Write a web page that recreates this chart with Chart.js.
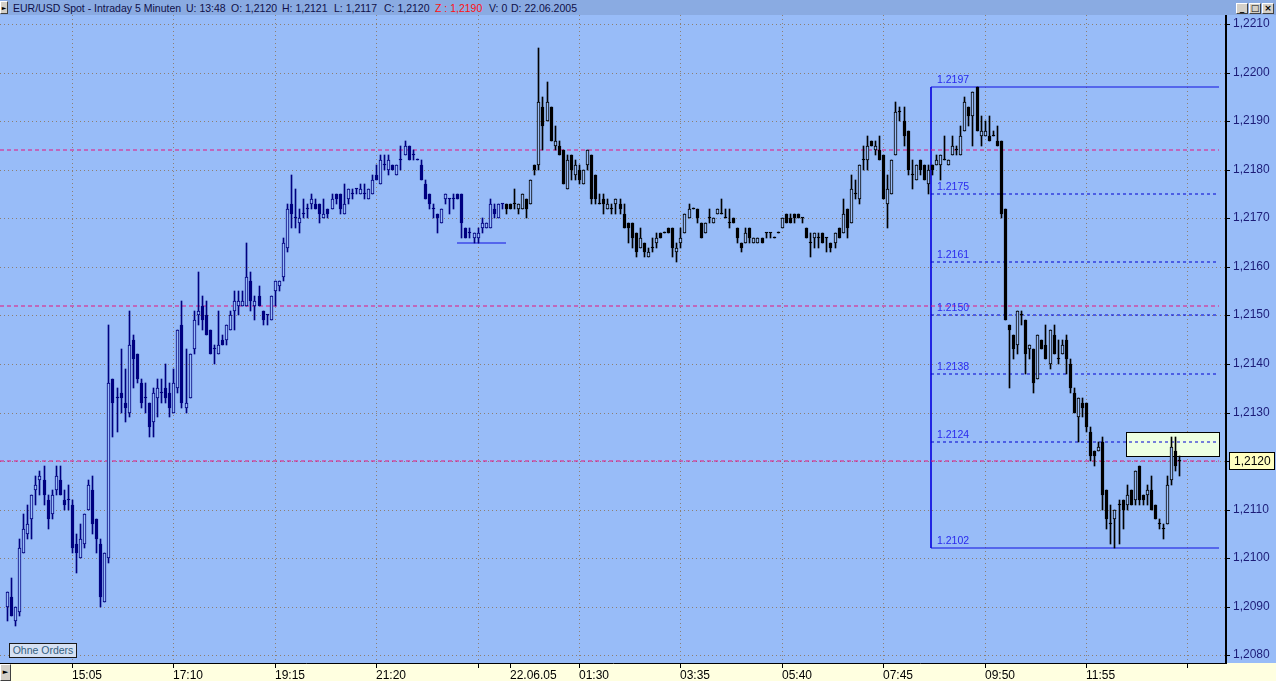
<!DOCTYPE html>
<html>
<head>
<meta charset="utf-8">
<title>EUR/USD Spot - Intraday 5 Minuten</title>
<script src="https://cdn.jsdelivr.net/npm/chart.js@4.4.1/dist/chart.umd.min.js"></script>
<style>
html, body { margin: 0; padding: 0; overflow: hidden; background: #98bcf8; }
#wrap { position: relative; width: 1276px; height: 681px; }
#chart { position: absolute; left: 0; top: 0; }
#head { position: absolute; left: 0; top: 0; width: 1276px; height: 15px; background: #8aabe2;
        font: 10.5px 'Liberation Sans', Arial, sans-serif; color: #101048; }
#head span { position: absolute; top: 2px; white-space: nowrap; }
#head .red { color: #ff1010; }
.btn { position: absolute; background: #d4d0c8; border: 1px solid; border-color: #fff #404040 #404040 #fff;
       box-sizing: border-box; font: bold 9px 'DejaVu Sans', sans-serif; color: #000; text-align: center; line-height: 9px; }
#orders { position: absolute; left: 9px; top: 643px; width: 68px; height: 15px; box-sizing: border-box;
          border: 1px solid #1a1a1a; background: #d5e1f3; color: #33607f;
          font: 10.5px 'Liberation Sans', Arial, sans-serif; text-align: center; line-height: 13px; }
</style>
</head>
<body>
<div id="wrap">
  <canvas id="chart" width="1276" height="681"></canvas>
  <div id="head">
    <div class="btn" style="left:0;top:1px;width:8px;height:13px;font-size:6px;line-height:11px;">&#9658;</div>
    <span style="left:13px">EUR/USD Spot - Intraday 5 Minuten</span>
    <span id="hU" style="left:186px"></span>
    <span id="hO" style="left:231px"></span>
    <span id="hH" style="left:282px"></span>
    <span id="hL" style="left:334px"></span>
    <span id="hC" style="left:384px"></span>
    <span id="hZ" class="red" style="left:435px"></span>
    <span id="hV" style="left:489px"></span>
    <span id="hD" style="left:511px"></span>
    <div class="btn" style="left:1236px;top:3px;width:12px;height:11px;">_</div>
    <div class="btn" style="left:1249px;top:3px;width:12px;height:11px;">&#9633;</div>
    <div class="btn" style="left:1262px;top:3px;width:12px;height:11px;">&#215;</div>
  </div>
  <div class="btn" style="left:0;top:664px;width:11px;height:17px;font-size:7px;line-height:15px;">&#9658;</div>
  <div id="orders">Ohne Orders</div>
</div>
<script>
// Kerzen (5 Minuten), 21.06.2005 13:45 bis 22.06.2005 13:50
const opens = [
  1.2090,1.2092,1.2087,1.2089,1.2101,1.2105,1.2108,1.2114,1.2116,1.2116,
  1.2112,1.2109,1.2114,1.2116,1.2112,1.2112,1.2111,1.2103,1.2100,1.2103,
  1.2110,1.2114,1.2108,1.2103,1.2091,1.2100,1.2137,1.2133,1.2134,1.2132,
  1.2130,1.2145,1.2142,1.2136,1.2133,1.2132,1.2128,1.2133,1.2134,1.2135,
  1.2134,1.2130,1.2135,1.2148,1.2131,1.2133,1.2143,1.2150,1.2152,1.2150,
  1.2147,1.2143,1.2142,1.2145,1.2145,1.2147,1.2151,1.2152,1.2152,1.2152,
  1.2157,1.2152,1.2154,1.2151,1.2150,1.2149,1.2155,1.2156,1.2158,1.2164,
  1.2173,1.2170,1.2169,1.2171,1.2172,1.2173,1.2173,1.2173,1.2170,1.2172,
  1.2172,1.2175,1.2175,1.2171,1.2174,1.2175,1.2176,1.2175,1.2175,1.2174,
  1.2175,1.2179,1.2177,1.2181,1.2180,1.2181,1.2179,1.2182,1.2183,1.2185,
  1.2183,1.2182,1.2181,1.2177,1.2175,1.2172,1.2171,1.2169,1.2174,1.2174,
  1.2174,1.2175,1.2175,1.2168,1.2167,1.2166,1.2166,1.2168,1.2168,1.2168,
  1.2172,1.2170,1.2173,1.2173,1.2173,1.2173,1.2172,1.2172,1.2174,1.2173,
  1.2181,1.2181,1.2193,1.2190,1.2193,1.2185,1.2185,1.2184,1.2176,1.2183,
  1.2179,1.2180,1.2177,1.2181,1.2183,1.2179,1.2173,1.2174,1.2172,1.2172,
  1.2173,1.2173,1.2171,1.2169,1.2169,1.2167,1.2164,1.2165,1.2162,1.2164,
  1.2165,1.2167,1.2167,1.2168,1.2168,1.2163,1.2165,1.2167,1.2170,1.2172,
  1.2172,1.2169,1.2167,1.2170,1.2169,1.2171,1.2171,1.2170,1.2169,1.2170,
  1.2168,1.2165,1.2165,1.2168,1.2165,1.2165,1.2166,1.2167,1.2167,1.2166,
  1.2167,1.2168,1.2171,1.2170,1.2171,1.2171,1.2170,1.2168,1.2165,1.2166,
  1.2166,1.2167,1.2166,1.2165,1.2165,1.2168,1.2167,1.2172,1.2169,1.2175,
  1.2174,1.2182,1.2182,1.2186,1.2184,1.2184,1.2183,1.2173,1.2175,1.2183,
  1.2192,1.2190,1.2188,1.2179,1.2178,1.2182,1.2181,1.2177,1.2181,1.2181,
  1.2181,1.2182,1.2181,1.2183,1.2184,1.2183,1.2188,1.2193,1.2191,1.2197,
  1.2187,1.2187,1.2187,1.2187,1.2186,1.2186,1.2172,1.2148,1.2146,1.2144,
  1.2150,1.2149,1.2143,1.2143,1.2137,1.2145,1.2144,1.2140,1.2146,1.2141,
  1.2142,1.2145,1.2140,1.2134,1.2129,1.2132,1.2132,1.2126,1.2122,1.2122,
  1.2124,1.2114,1.2107,1.2108,1.2111,1.2112,1.2111,1.2114,1.2112,1.2119,
  1.2113,1.2113,1.2114,1.2111,1.2107,1.2106,1.2107,1.2116,1.2122,1.2120
];
const highs = [
  1.2093,1.2096,1.2090,1.2104,1.2109,1.2111,1.2113,1.2117,1.2118,1.2119,
  1.2113,1.2114,1.2119,1.2119,1.2114,1.2115,1.2112,1.2105,1.2107,1.2109,
  1.2116,1.2117,1.2108,1.2104,1.2101,1.2148,1.2137,1.2135,1.2143,1.2139,
  1.2151,1.2146,1.2142,1.2137,1.2136,1.2132,1.2135,1.2137,1.2137,1.2140,
  1.2136,1.2139,1.2147,1.2153,1.2143,1.2142,1.2151,1.2159,1.2154,1.2153,
  1.2147,1.2144,1.2151,1.2146,1.2148,1.2151,1.2155,1.2155,1.2155,1.2165,
  1.2159,1.2154,1.2156,1.2151,1.2150,1.2154,1.2157,1.2157,1.2166,1.2173,
  1.2179,1.2176,1.2172,1.2174,1.2173,1.2175,1.2174,1.2173,1.2174,1.2172,
  1.2175,1.2175,1.2175,1.2177,1.2176,1.2176,1.2176,1.2177,1.2177,1.2176,
  1.2179,1.2181,1.2183,1.2183,1.2183,1.2181,1.2181,1.2185,1.2186,1.2185,
  1.2184,1.2182,1.2182,1.2178,1.2175,1.2173,1.2171,1.2172,1.2175,1.2174,
  1.2175,1.2175,1.2175,1.2168,1.2168,1.2167,1.2168,1.2170,1.2169,1.2174,
  1.2173,1.2173,1.2173,1.2173,1.2173,1.2176,1.2173,1.2175,1.2174,1.2178,
  1.2181,1.2205,1.2195,1.2198,1.2193,1.2189,1.2186,1.2184,1.2183,1.2183,
  1.2182,1.2181,1.2180,1.2184,1.2183,1.2179,1.2175,1.2175,1.2174,1.2173,
  1.2174,1.2174,1.2173,1.2169,1.2169,1.2167,1.2168,1.2165,1.2164,1.2166,
  1.2167,1.2167,1.2167,1.2168,1.2168,1.2165,1.2168,1.2171,1.2173,1.2172,
  1.2172,1.2169,1.2169,1.2172,1.2170,1.2172,1.2174,1.2172,1.2172,1.2170,
  1.2168,1.2165,1.2168,1.2168,1.2166,1.2166,1.2166,1.2167,1.2167,1.2166,
  1.2167,1.2170,1.2171,1.2171,1.2171,1.2171,1.2170,1.2168,1.2167,1.2167,
  1.2167,1.2167,1.2166,1.2165,1.2167,1.2168,1.2174,1.2172,1.2179,1.2178,
  1.2181,1.2185,1.2187,1.2186,1.2186,1.2187,1.2183,1.2179,1.2182,1.2194,
  1.2193,1.2193,1.2188,1.2182,1.2181,1.2182,1.2181,1.2181,1.2181,1.2183,
  1.2183,1.2187,1.2182,1.2187,1.2185,1.2189,1.2195,1.2193,1.2196,1.2197,
  1.2191,1.2190,1.2191,1.2188,1.2189,1.2186,1.2172,1.2148,1.2146,1.2151,
  1.2151,1.2149,1.2144,1.2143,1.2146,1.2145,1.2148,1.2147,1.2148,1.2145,
  1.2145,1.2146,1.2141,1.2135,1.2133,1.2133,1.2132,1.2127,1.2122,1.2124,
  1.2125,1.2114,1.2111,1.2110,1.2112,1.2112,1.2115,1.2114,1.2118,1.2119,
  1.2113,1.2115,1.2117,1.2111,1.2108,1.2107,1.2117,1.2125,1.2125,1.2121
];
const lows = [
  1.2087,1.2088,1.2086,1.2088,1.2101,1.2104,1.2104,1.2111,1.2113,1.2111,
  1.2106,1.2108,1.2113,1.2113,1.2110,1.2110,1.2101,1.2097,1.2100,1.2102,
  1.2110,1.2105,1.2101,1.2090,1.2091,1.2099,1.2125,1.2126,1.2130,1.2128,
  1.2129,1.2135,1.2136,1.2131,1.2130,1.2125,1.2125,1.2129,1.2132,1.2132,
  1.2129,1.2130,1.2134,1.2131,1.2130,1.2133,1.2142,1.2148,1.2147,1.2146,
  1.2142,1.2140,1.2142,1.2144,1.2144,1.2147,1.2147,1.2150,1.2152,1.2152,
  1.2151,1.2149,1.2152,1.2148,1.2148,1.2149,1.2152,1.2155,1.2157,1.2163,
  1.2168,1.2168,1.2167,1.2170,1.2170,1.2172,1.2172,1.2169,1.2170,1.2170,
  1.2172,1.2173,1.2171,1.2171,1.2173,1.2174,1.2175,1.2175,1.2174,1.2174,
  1.2175,1.2178,1.2177,1.2180,1.2179,1.2180,1.2179,1.2180,1.2183,1.2182,
  1.2182,1.2182,1.2178,1.2174,1.2172,1.2170,1.2167,1.2169,1.2173,1.2171,
  1.2172,1.2174,1.2166,1.2166,1.2166,1.2165,1.2165,1.2167,1.2168,1.2168,
  1.2170,1.2170,1.2172,1.2171,1.2172,1.2172,1.2171,1.2172,1.2170,1.2173,
  1.2179,1.2180,1.2184,1.2190,1.2186,1.2184,1.2183,1.2177,1.2176,1.2178,
  1.2178,1.2177,1.2177,1.2180,1.2173,1.2173,1.2173,1.2171,1.2172,1.2171,
  1.2171,1.2171,1.2168,1.2165,1.2164,1.2162,1.2164,1.2162,1.2162,1.2163,
  1.2164,1.2166,1.2167,1.2167,1.2162,1.2161,1.2164,1.2167,1.2170,1.2172,
  1.2169,1.2166,1.2167,1.2169,1.2169,1.2171,1.2171,1.2170,1.2168,1.2169,
  1.2165,1.2163,1.2165,1.2165,1.2165,1.2165,1.2165,1.2166,1.2166,1.2166,
  1.2167,1.2168,1.2169,1.2169,1.2169,1.2170,1.2169,1.2166,1.2162,1.2164,
  1.2164,1.2165,1.2163,1.2163,1.2164,1.2166,1.2167,1.2166,1.2169,1.2174,
  1.2173,1.2180,1.2180,1.2185,1.2183,1.2182,1.2174,1.2168,1.2175,1.2183,
  1.2190,1.2185,1.2179,1.2176,1.2178,1.2179,1.2178,1.2175,1.2179,1.2181,
  1.2178,1.2182,1.2181,1.2183,1.2183,1.2183,1.2188,1.2189,1.2185,1.2188,
  1.2185,1.2187,1.2186,1.2187,1.2185,1.2170,1.2149,1.2135,1.2141,1.2142,
  1.2148,1.2138,1.2141,1.2134,1.2137,1.2143,1.2141,1.2139,1.2142,1.2140,
  1.2142,1.2138,1.2134,1.2130,1.2124,1.2129,1.2126,1.2120,1.2119,1.2122,
  1.2110,1.2106,1.2103,1.2102,1.2103,1.2106,1.2110,1.2111,1.2111,1.2111,
  1.2111,1.2111,1.2110,1.2108,1.2106,1.2104,1.2107,1.2115,1.2118,1.2117
];
const closes = [
  1.2093,1.2088,1.2090,1.2102,1.2106,1.2107,1.2113,1.2115,1.2117,1.2113,
  1.2108,1.2113,1.2117,1.2113,1.2111,1.2112,1.2102,1.2101,1.2104,1.2109,
  1.2115,1.2107,1.2104,1.2092,1.2101,1.2136,1.2132,1.2133,1.2133,1.2131,
  1.2144,1.2141,1.2137,1.2132,1.2133,1.2127,1.2134,1.2135,1.2134,1.2133,
  1.2131,1.2136,1.2147,1.2132,1.2132,1.2142,1.2149,1.2151,1.2149,1.2146,
  1.2142,1.2143,1.2144,1.2144,1.2148,1.2150,1.2153,1.2153,1.2153,1.2158,
  1.2153,1.2153,1.2152,1.2149,1.2150,1.2154,1.2157,1.2157,1.2165,1.2172,
  1.2171,1.2170,1.2170,1.2171,1.2172,1.2174,1.2172,1.2171,1.2171,1.2171,
  1.2174,1.2174,1.2172,1.2173,1.2176,1.2175,1.2176,1.2176,1.2175,1.2176,
  1.2178,1.2178,1.2182,1.2181,1.2182,1.2180,1.2181,1.2182,1.2185,1.2182,
  1.2183,1.2182,1.2178,1.2174,1.2173,1.2172,1.2170,1.2172,1.2175,1.2174,
  1.2174,1.2174,1.2169,1.2166,1.2167,1.2167,1.2167,1.2169,1.2169,1.2173,
  1.2171,1.2173,1.2173,1.2172,1.2172,1.2173,1.2173,1.2175,1.2172,1.2178,
  1.2180,1.2194,1.2189,1.2194,1.2186,1.2186,1.2183,1.2177,1.2182,1.2180,
  1.2181,1.2178,1.2180,1.2184,1.2174,1.2174,1.2173,1.2173,1.2173,1.2172,
  1.2174,1.2172,1.2168,1.2168,1.2166,1.2163,1.2166,1.2163,1.2163,1.2164,
  1.2166,1.2166,1.2167,1.2167,1.2164,1.2164,1.2166,1.2171,1.2172,1.2172,
  1.2170,1.2166,1.2169,1.2170,1.2170,1.2172,1.2171,1.2170,1.2169,1.2169,
  1.2166,1.2164,1.2167,1.2166,1.2166,1.2166,1.2165,1.2167,1.2167,1.2166,
  1.2167,1.2170,1.2169,1.2169,1.2170,1.2170,1.2170,1.2166,1.2165,1.2167,
  1.2166,1.2165,1.2166,1.2164,1.2167,1.2166,1.2171,1.2168,1.2176,1.2175,
  1.2181,1.2182,1.2185,1.2185,1.2185,1.2182,1.2174,1.2176,1.2182,1.2192,
  1.2192,1.2187,1.2180,1.2179,1.2181,1.2180,1.2178,1.2180,1.2180,1.2182,
  1.2183,1.2182,1.2182,1.2185,1.2184,1.2187,1.2194,1.2191,1.2196,1.2188,
  1.2188,1.2188,1.2186,1.2187,1.2185,1.2171,1.2149,1.2147,1.2143,1.2151,
  1.2150,1.2142,1.2144,1.2136,1.2146,1.2143,1.2141,1.2147,1.2142,1.2141,
  1.2144,1.2141,1.2135,1.2130,1.2133,1.2131,1.2127,1.2121,1.2121,1.2123,
  1.2113,1.2108,1.2107,1.2110,1.2111,1.2110,1.2113,1.2111,1.2118,1.2112,
  1.2112,1.2114,1.2110,1.2108,1.2107,1.2106,1.2115,1.2123,1.2119,1.2120
];
const firstBarToday = 123;          // 22.06.05 00:00

// Zeitachse: Kerzenindex der Markierungen und Beschriftungen
const tickBars   = [16, 41, 66, 91, 116, 124, 141, 166, 191, 216, 241, 266, 291];
const tickLabels = ['15:05', '17:10', '19:15', '21:20', '', '22.06.05', '01:30', '03:35', '05:40', '07:45', '09:50', '11:55', ''];
const dateTick = 5;

// Preisachse
const priceTicks = [1.2080, 1.2090, 1.2100, 1.2110, 1.2120, 1.2130, 1.2140, 1.2150,
                    1.2160, 1.2170, 1.2180, 1.2190, 1.2200, 1.2210];

// Linien und Zeichnungen
const hLines = [1.2184, 1.2152, 1.2120];
const fibHigh = 1.2197;
const fibLow = 1.2102;
const fibLevels = [1.2175, 1.2161, 1.2150, 1.2138, 1.2124];
const fibRange = [227.8, 298.8];
const supportLine = { from: 111, to: 123, price: 1.2165 };
const zoneBox = { from: 275.9, to: 298.8, low: 1.2121, high: 1.2126 };
const headerInfo = { time: '13:48', z: 1.2190, volume: 0, date: '22.06.2005' };

const xMin = -1.73, xMax = 300.5;
const yMin = 1.20784, yMax = 1.22119;

const paneColor = '#98bcf8';
const stripColor = '#ffffe0';
const gridColor = '#8d7f73';
const fmt = v => v.toFixed(4).replace('.', ',');

const last = closes.length - 1;
document.getElementById('hU').textContent = 'U: ' + headerInfo.time;
document.getElementById('hO').textContent = 'O: ' + fmt(opens[last]);
document.getElementById('hH').textContent = 'H: ' + fmt(highs[last]);
document.getElementById('hL').textContent = 'L: ' + fmt(lows[last]);
document.getElementById('hC').textContent = 'C: ' + fmt(closes[last]);
document.getElementById('hZ').textContent = 'Z : ' + fmt(headerInfo.z);
document.getElementById('hV').textContent = 'V: ' + headerInfo.volume;
document.getElementById('hD').textContent = 'D: ' + headerInfo.date;

const candleColor = i => i >= firstBarToday ? '#000000' : '#000080';
const colors = closes.map((c, i) => candleColor(i));

const lineSet = (points, color, dash) => ({
    type: 'line',
    data: points,
    borderColor: color,
    borderWidth: 1,
    borderDash: dash,
    pointRadius: 0,
    fill: false,
    tension: 0,
    order: 3
});

const datasets = [];
hLines.forEach(p => datasets.push(lineSet([{ x: xMin, y: p }, { x: fibRange[1], y: p }], '#e6147f', [4, 3])));
fibLevels.forEach(p => datasets.push(lineSet([{ x: fibRange[0], y: p }, { x: fibRange[1], y: p }], '#0000d0', [3, 3])));
datasets.push(lineSet([
    { x: fibRange[1], y: fibHigh }, { x: fibRange[0], y: fibHigh },
    { x: fibRange[0], y: fibLow }, { x: fibRange[1], y: fibLow }
], '#1010e0', []));
datasets.push(lineSet([{ x: supportLine.from, y: supportLine.price }, { x: supportLine.to, y: supportLine.price }], '#1010e0', []));

// Dochte
datasets.push({
    type: 'bar',
    data: closes.map((c, i) => ({ x: i, y: [lows[i], highs[i]] })),
    backgroundColor: colors,
    borderWidth: 0,
    barThickness: 1,
    minBarLength: 1,
    grouped: false,
    order: 2
});
// Koerper
datasets.push({
    type: 'bar',
    data: closes.map((c, i) => ({ x: i, y: [Math.min(opens[i], c), Math.max(opens[i], c)] })),
    backgroundColor: closes.map((c, i) => c > opens[i] ? paneColor : colors[i]),
    borderColor: colors,
    borderWidth: 1,
    borderSkipped: false,
    barThickness: 3,
    minBarLength: 1,
    grouped: false,
    order: 1
});

// Kerzen auf ganze Pixel legen, damit sie scharf bleiben
const snapBars = {
    id: 'snapBars',
    afterDatasetsUpdate(chart) {
        chart.data.datasets.forEach((ds, di) => {
            if (ds.type !== 'bar') return;
            chart.getDatasetMeta(di).data.forEach(el => {
                el.x = Math.floor(el.x) + 0.5;
                el.y = Math.round(el.y);
                el.base = Math.round(el.base);
            });
        });
    }
};

const decorations = {
    id: 'decorations',
    beforeDraw(chart) {
        const { ctx, width, height, chartArea } = chart;
        ctx.save();
        ctx.fillStyle = paneColor;
        ctx.fillRect(0, 0, width, height);
        ctx.fillStyle = stripColor;
        ctx.fillRect(0, chartArea.bottom, width, height - chartArea.bottom);
        ctx.restore();
    },
    beforeDatasetsDraw(chart) {
        const { ctx, scales: { x, y } } = chart;
        const x0 = Math.round(x.getPixelForValue(zoneBox.from)) + 0.5;
        const x1 = Math.round(x.getPixelForValue(zoneBox.to)) + 0.5;
        const y0 = Math.round(y.getPixelForValue(zoneBox.high)) + 0.5;
        const y1 = Math.round(y.getPixelForValue(zoneBox.low)) + 0.5;
        ctx.save();
        ctx.fillStyle = '#edffe2';
        ctx.fillRect(x0, y0, x1 - x0, y1 - y0);
        ctx.strokeStyle = '#000';
        ctx.lineWidth = 1;
        ctx.strokeRect(x0, y0, x1 - x0, y1 - y0);
        ctx.restore();
    },
    afterDatasetsDraw(chart) {
        const { ctx, scales: { x, y } } = chart;
        ctx.save();
        ctx.font = "10.5px 'Liberation Sans', Arial, sans-serif";
        ctx.fillStyle = '#2a2aee';
        ctx.textBaseline = 'bottom';
        const lx = x.getPixelForValue(fibRange[0]) + 6;
        [fibHigh, ...fibLevels, fibLow].forEach(p => {
            ctx.fillText(p.toFixed(4), lx, y.getPixelForValue(p) - 2);
        });
        ctx.restore();
    },
    afterDraw(chart) {
        const { ctx, scales: { y } } = chart;
        const py = Math.round(y.getPixelForValue(closes[last]));
        ctx.save();
        ctx.fillStyle = '#ffffc0';
        ctx.fillRect(1229.5, py - 8.5, 45, 17);
        ctx.strokeStyle = '#000';
        ctx.lineWidth = 1;
        ctx.strokeRect(1229.5, py - 8.5, 45, 17);
        ctx.fillStyle = '#000';
        ctx.font = "12px 'Liberation Sans', Arial, sans-serif";
        ctx.textBaseline = 'middle';
        ctx.fillText(fmt(closes[last]), 1234, py + 1);
        ctx.restore();
    }
};

const axisFont = { family: "'Liberation Sans', Arial, sans-serif", size: 12 };

new Chart(document.getElementById('chart'), {
    type: 'bar',
    data: { datasets: datasets },
    plugins: [snapBars, decorations],
    options: {
        responsive: false,
        devicePixelRatio: 1,
        animation: false,
        layout: { padding: { top: 15, left: 0, right: 0, bottom: 0 } },
        plugins: { legend: { display: false }, tooltip: { enabled: false } },
        scales: {
            x: {
                type: 'linear',
                position: 'bottom',
                min: xMin,
                max: xMax,
                offset: false,
                alignToPixels: true,
                afterBuildTicks: s => { s.ticks = tickBars.map(v => ({ value: v })); },
                afterFit: s => { s.height = 18; },
                ticks: {
                    callback: (v, i) => tickLabels[i],
                    autoSkip: false,
                    maxRotation: 0,
                    align: 'start',
                    padding: 0,
                    color: '#000',
                    font: axisFont
                },
                grid: {
                    offset: false,
                    color: c => c.index === dateTick ? 'rgba(0,0,0,0)' : gridColor,
                    tickColor: '#000',
                    tickLength: 5,
                    lineWidth: 1
                },
                border: { color: '#000', width: 1, dash: [1, 3] }
            },
            y: {
                type: 'linear',
                position: 'right',
                min: yMin,
                max: yMax,
                alignToPixels: true,
                afterBuildTicks: s => { s.ticks = priceTicks.map(v => ({ value: v })); },
                afterFit: s => { s.width = 50; },
                ticks: {
                    callback: v => fmt(v),
                    padding: 3,
                    color: '#1c1c78',
                    font: axisFont
                },
                grid: {
                    color: gridColor,
                    tickColor: '#000',
                    tickLength: 4,
                    lineWidth: 1
                },
                border: { color: '#000', width: 2, dash: [1, 3] }
            }
        }
    }
});
</script>
</body>
</html>
